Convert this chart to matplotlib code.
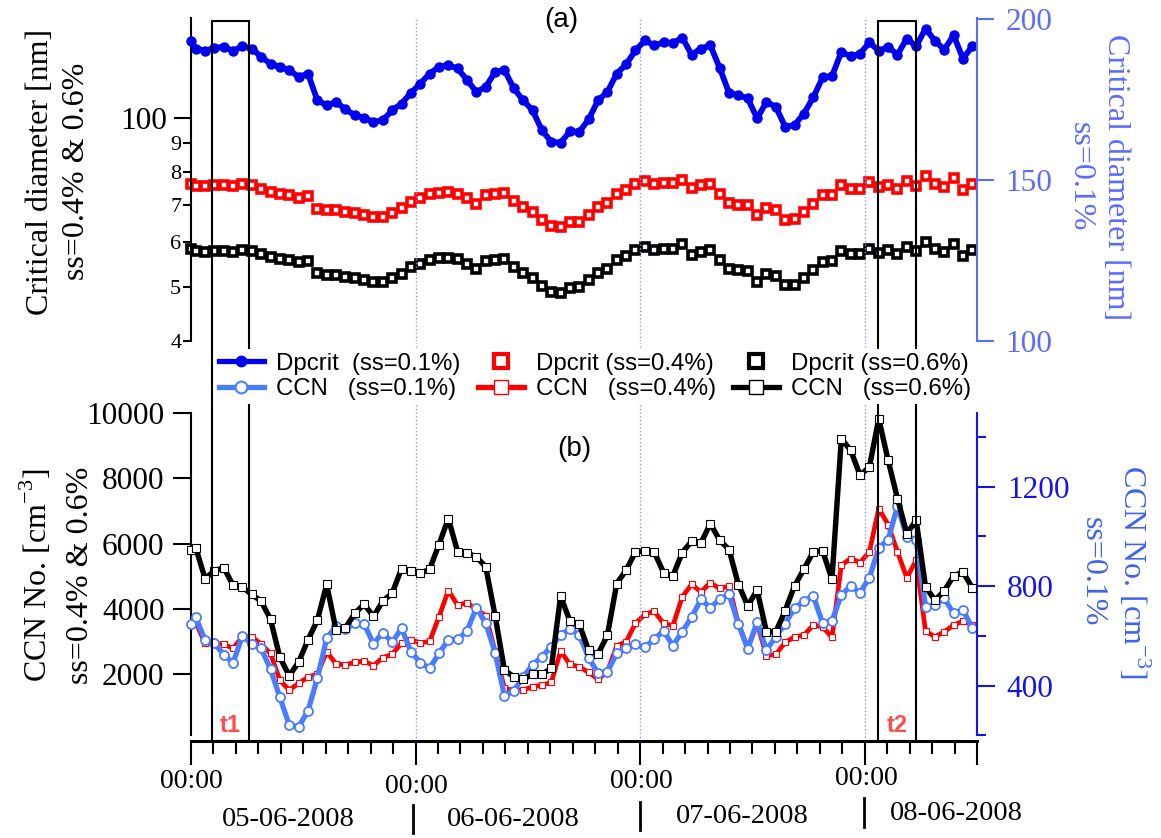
import numpy as np
import matplotlib
matplotlib.use('Agg')
import matplotlib.pyplot as plt
import matplotlib.transforms as mtransforms
from matplotlib.lines import Line2D
from matplotlib.patches import Rectangle
from matplotlib.ticker import FixedLocator, FixedFormatter, MultipleLocator, NullLocator, NullFormatter

# hours since 05-06-2008 00:00 (hourly samples)
hours = [0.0] + [k + 0.5 for k in range(84)]

# critical diameters [nm]
dp01 = [193.2, 190.9, 190.2, 191.1, 191.4, 190.2, 191.6, 190.9, 188.3, 186.2,
        185.2, 184.2, 182.1, 183.1, 174.8, 173.3, 174.3, 172.0, 170.2, 169.4,
        168.1, 168.6, 171.7, 173.8, 177.1, 180.0, 183.1, 185.2, 185.7, 184.7,
        181.1, 177.4, 179.0, 183.6, 184.2, 178.5, 174.8, 171.7, 165.5, 161.9,
        161.6, 165.2, 165.0, 168.9, 174.8, 177.4, 183.1, 186.0, 190.3, 193.4,
        191.9, 192.8, 192.6, 194.3, 189.0, 190.9, 191.9, 184.9, 177.1, 176.4,
        175.4, 169.2, 174.3, 172.8, 166.6, 167.1, 170.7, 175.7, 181.9, 182.3,
        189.8, 188.5, 189.3, 192.8, 190.2, 191.4, 189.0, 194.0, 191.6, 197.1,
        193.3, 190.6, 195.0, 187.8, 191.6]
dp04 = [76.3, 75.5, 75.5, 75.8, 75.8, 75.5, 76.1, 75.8, 74.5, 73.7,
        73.2, 72.7, 72.0, 72.4, 68.8, 68.4, 68.6, 67.9, 67.5, 67.2,
        66.5, 66.5, 67.6, 69.1, 70.7, 71.8, 73.0, 73.4, 73.7, 73.2,
        71.8, 70.3, 72.7, 73.2, 73.4, 70.9, 69.3, 67.9, 65.6, 64.0,
        63.8, 65.2, 65.2, 67.0, 69.3, 70.4, 73.0, 74.2, 76.3, 77.0,
        76.2, 76.4, 76.4, 77.5, 74.9, 75.8, 76.3, 73.2, 70.4, 70.0,
        70.0, 67.2, 69.0, 68.5, 65.8, 66.1, 67.9, 70.3, 72.7, 72.9,
        75.8, 74.7, 74.7, 76.8, 75.2, 75.8, 74.7, 77.1, 75.5, 78.6,
        76.3, 75.2, 78.2, 74.4, 76.3]
dp06 = [58.4, 57.8, 57.6, 57.8, 57.8, 57.6, 58.0, 57.8, 57.1, 56.5,
        56.1, 55.8, 55.2, 55.5, 52.9, 52.4, 52.5, 52.0, 51.7, 51.3,
        50.9, 50.9, 51.8, 52.7, 54.1, 54.8, 55.8, 56.2, 56.3, 55.9,
        54.8, 53.8, 55.5, 55.8, 56.1, 54.2, 52.9, 51.9, 50.1, 48.9,
        48.7, 49.8, 49.9, 51.3, 52.9, 53.7, 55.8, 56.6, 58.1, 58.7,
        58.1, 58.3, 58.3, 59.5, 57.0, 57.6, 58.0, 55.8, 53.8, 53.5,
        53.3, 50.9, 52.6, 52.2, 50.3, 50.4, 51.9, 53.5, 55.3, 55.5,
        57.8, 57.1, 57.1, 58.4, 57.4, 58.0, 57.2, 58.8, 57.8, 60.0,
        58.4, 57.6, 59.6, 56.6, 58.0]

# CCN number concentrations [cm-3]
ccn01 = [648, 675, 584, 570, 525, 492, 601, 566, 550, 466,
         353, 242, 235, 298, 430, 590, 640, 626, 651, 648,
         569, 613, 575, 631, 537, 493, 470, 530, 584, 586,
         620, 714, 651, 533, 359, 379, 436, 483, 517, 557,
         604, 628, 604, 512, 450, 456, 530, 550, 566, 554,
         587, 620, 561, 617, 675, 747, 714, 747, 767, 648,
         548, 657, 544, 597, 650, 711, 740, 762, 651, 660,
         765, 801, 774, 834, 955, 986, 1122, 999, 986, 718,
         724, 751, 691, 704, 633]
ccn04 = [3500, 3600, 2940, 2950, 2918, 2786, 3150, 3143, 2918, 2633,
         1807, 1510, 1715, 1908, 2000, 2683, 2310, 2285, 2360, 2400,
         2260, 2505, 2610, 2950, 3050, 2959, 3000, 3755, 4560, 4113,
         4190, 3975, 3790, 2700, 1561, 1510, 1510, 1612, 1663, 1745,
         2704, 2296, 2225, 2050, 1847, 2071, 2868, 2990, 3553, 3828,
         3930, 3553, 3480, 4368, 4747, 4521, 4797, 4624, 4695, 3550,
         2800, 3550, 2561, 2603, 2970, 3143, 3194, 3500, 3449, 3124,
         5338, 5543, 5420, 5746, 7075, 6585, 5746, 4950, 5492, 3317,
         3143, 3296, 3500, 3623, 3500]
ccn06 = [5800, 5880, 4930, 5165, 5267, 4716, 4665, 4440, 4236, 3675,
         2511, 1949, 2367, 3051, 3645, 4747, 3348, 3419, 3859, 4144,
         3767, 4236, 4480, 5237, 5165, 5084, 5216, 5972, 6769, 5746,
         5715, 5593, 5287, 3786, 2122, 1918, 1847, 1991, 1991, 2175,
         4389, 3623, 3522, 2725, 2612, 3194, 4777, 5185, 5746, 5777,
         5746, 5114, 5012, 5726, 6073, 6022, 6615, 6104, 5818, 4746,
         4093, 4573, 3296, 3296, 3945, 4705, 5216, 5746, 5777, 4910,
         9219, 8861, 8095, 8350, 9832, 8554, 7381, 6309, 6717, 4674,
         4266, 4551, 5011, 5133, 4643]

day_starts = [0, 24, 48, 72]
day_names = ['05-06-2008', '06-06-2008', '07-06-2008', '08-06-2008']
windows = [(2.2, 6.2, 't1'), (73.45, 77.45, 't2')]

W, H = 1161, 838
SERIF = 'Liberation Serif'
SANS = 'Liberation Sans'
plt.rcParams['font.family'] = SERIF
plt.rcParams['mathtext.fontset'] = 'custom'
plt.rcParams['mathtext.rm'] = SERIF

DP_BLUE = '#0000ee'
CCN_BLUE = '#4a7cff'
TOP_R = '#5a6cff'
BOT_R = '#1414e8'
BOT_R_LABEL = '#3f63f0'
DOT = '#8f8fff'


def fx(x):
    return x / W


def fy(y):
    return 1 - y / H


fig = plt.figure(figsize=(W / 100, H / 100), dpi=100)

# ---------------- panel (a) ----------------
ax1 = fig.add_axes([fx(191), fy(341), 786 / W, (341 - 18.3) / H])
ax1r = ax1.twinx()

ax1.plot(hours, dp04, ls='none', marker='s', ms=5.5, mew=2.6, mfc='white', mec='red', clip_on=False)
ax1.plot(hours, dp06, ls='none', marker='s', ms=5.5, mew=2.6, mfc='white', mec='black', clip_on=False)
ax1r.plot(hours, dp01, color=DP_BLUE, lw=4.2, marker='o', ms=6.5, mfc=DP_BLUE, mec=DP_BLUE, clip_on=False)

ax1.set_yscale('log')
ax1.set_xlim(0, 84)
ax1.set_ylim(40, 150.3)
ax1r.set_ylim(100, 200.3)

for d in day_starts[1:]:
    ax1.axvline(d, color=DOT, ls=':', lw=1.0)

for s in ['top', 'bottom', 'right']:
    ax1.spines[s].set_visible(False)
ax1.spines['left'].set_linewidth(1.5)
for s in ['top', 'bottom', 'left']:
    ax1r.spines[s].set_visible(False)
ax1r.spines['right'].set_color(TOP_R)
ax1r.spines['right'].set_linewidth(1.5)

ax1.yaxis.set_major_locator(FixedLocator([100]))
ax1.yaxis.set_major_formatter(FixedFormatter(['100']))
ax1.yaxis.set_minor_locator(FixedLocator([40, 50, 60, 70, 80, 90]))
ax1.yaxis.set_minor_formatter(FixedFormatter(['4', '5', '6', '7', '8', '9']))
ax1.tick_params(axis='y', which='major', length=12, width=1.5, pad=5, labelsize=22.5)
ax1.tick_params(axis='y', which='minor', length=6, width=1.5, pad=1, labelsize=16)
ax1.tick_params(axis='x', which='both', bottom=False, labelbottom=False)

ax1r.yaxis.set_major_locator(FixedLocator([100, 150, 200]))
ax1r.yaxis.set_minor_locator(NullLocator())
ax1r.tick_params(axis='y', length=12, width=1.5, pad=8.5, labelsize=22.5, colors=TOP_R)

fig.text(fx(41), fy(172), 'Critical diameter [nm]', rotation=90, ha='center', va='center', fontsize=23)
fig.text(fx(76), fy(171), 'ss=0.4% & 0.6%', rotation=90, ha='center', va='center', fontsize=23)
fig.text(fx(1115), fy(177), 'Critical diameter [nm]', rotation=270, ha='center', va='center',
         fontsize=23, color=TOP_R)
fig.text(fx(1080), fy(177), 'ss=0.1%', rotation=270, ha='center', va='center', fontsize=23, color=TOP_R)
fig.text(fx(561), fy(20), '(a)', ha='center', va='center', fontsize=20, family=SANS)

# ---------------- panel (b) ----------------
ax2 = fig.add_axes([fx(191), fy(741), 786 / W, 328 / H])
ax2r = ax2.twinx()

ax2.plot(hours, ccn04, color='red', lw=3.4, marker='s', ms=5, mfc='white', mec='red', mew=0.8, clip_on=False)
ax2r.plot(hours, ccn01, color=CCN_BLUE, lw=3.8, marker='o', ms=6.5, mfc='white', mec=CCN_BLUE, mew=1.3,
          clip_on=False, zorder=2)
ax2r.plot(hours, ccn06, color='black', lw=3.9, marker='s', ms=6, mfc='white', mec='black', mew=0.8,
          clip_on=False, zorder=3, transform=ax2.transData)

trans = mtransforms.blended_transform_factory(ax2.transData, ax2.transAxes)
for a, b, name in windows:
    ax2r.add_patch(Rectangle((a, 0), b - a, (741 - 20.7) / 328, transform=trans, fill=False,
                             lw=1.5, ec='black', clip_on=False, zorder=5))
    ax2r.text((a + b) / 2, 0.046, name, transform=trans, ha='center', va='center', fontsize=17,
              fontweight='bold', family=SANS, color='#ff4d4d', zorder=6)

for d in day_starts[1:]:
    ax2.axvline(d, ymin=0, ymax=(741 - 343) / 328, color=DOT, ls=':', lw=1.0, clip_on=False)

ax2.set_xlim(0, 84)
ax2.set_ylim(-52, 10005)
ax2r.set_ylim(177.7, 1496.3)

ax2.spines['top'].set_visible(False)
ax2.spines['right'].set_visible(False)
ax2.spines['left'].set_linewidth(1.5)
ax2.spines['left'].set_bounds(120, 10005)
ax2.spines['bottom'].set_linewidth(2.2)
for s in ['top', 'bottom', 'left']:
    ax2r.spines[s].set_visible(False)
ax2r.spines['right'].set_color(BOT_R)
ax2r.spines['right'].set_linewidth(1.5)
ax2r.spines['right'].set_bounds(200, 1496)

ax2.xaxis.set_major_locator(FixedLocator(day_starts + [84]))
ax2.xaxis.set_major_formatter(NullFormatter())
ax2.xaxis.set_minor_locator(MultipleLocator(2.4))
ax2.tick_params(axis='x', which='major', length=17, width=1.5)
ax2.tick_params(axis='x', which='minor', length=9, width=1.5)

ax2.yaxis.set_major_locator(FixedLocator([2000, 4000, 6000, 8000, 10000]))
ax2.yaxis.set_major_formatter(FixedFormatter(['2000', '4000', '6000', '8000', '10000']))
ax2.tick_params(axis='y', length=13, width=1.5, pad=6, labelsize=22.5)

ax2r.yaxis.set_major_locator(FixedLocator([400, 800, 1200]))
ax2r.yaxis.set_major_formatter(FixedFormatter(['400', '800', '1200']))
ax2r.yaxis.set_minor_locator(FixedLocator([200, 600, 1000, 1400]))
ax2r.tick_params(axis='y', which='major', length=13, width=1.5, pad=8.5, labelsize=22.5, colors=BOT_R)
ax2r.tick_params(axis='y', which='minor', length=6.5, width=1.5, colors=BOT_R)

fig.text(fx(36), fy(575), r'CCN No. [cm$^{\mathregular{-3}}$]', rotation=90, ha='center', va='center', fontsize=23)
fig.text(fx(80), fy(575), 'ss=0.4% & 0.6%', rotation=90, ha='center', va='center', fontsize=23)
fig.text(fx(1134), fy(572), r'CCN No. [cm$^{\mathregular{-3}}$]', rotation=270, ha='center', va='center',
         fontsize=23, color=BOT_R_LABEL)
fig.text(fx(1092), fy(572), 'ss=0.1%', rotation=270, ha='center', va='center', fontsize=23, color=BOT_R_LABEL)
fig.text(fx(574), fy(449), '(b)', ha='center', va='center', fontsize=20, family=SANS)

# time axis labels
hh_pos = [(191, 781), (416, 786), (641, 782), (866, 778)]
for (x, y) in hh_pos:
    fig.text(fx(x), fy(y), '00:00', ha='center', va='center', fontsize=20)
date_pos = [(288, 819), (513, 819), (742, 816), (956, 813)]
for name, (x, y) in zip(day_names, date_pos):
    fig.text(fx(x), fy(y), name, ha='center', va='center', fontsize=20.5)
for x, y0, y1 in [(412.5, 805, 833), (640, 802, 830), (864, 798, 827)]:
    fig.add_artist(Line2D([fx(x), fx(x)], [fy(y0), fy(y1)], color='black', lw=2))

# legend
handles = [
    Line2D([], [], color=DP_BLUE, lw=3.8, marker='o', ms=7.5, mfc=DP_BLUE, mec=DP_BLUE),
    Line2D([], [], color=CCN_BLUE, lw=3.8, marker='o', ms=8.5, mfc='white', mec=CCN_BLUE, mew=1.5),
    Line2D([], [], ls='none', marker='s', ms=10, mfc='white', mec='red', mew=3),
    Line2D([], [], color='red', lw=3.8, marker='s', ms=10.5, mfc='white', mec='red', mew=1),
    Line2D([], [], ls='none', marker='s', ms=10, mfc='white', mec='black', mew=3),
    Line2D([], [], color='black', lw=3.8, marker='s', ms=10.5, mfc='white', mec='black', mew=1),
]
labels = ['Dpcrit  (ss=0.1%)', 'CCN   (ss=0.1%)',
          'Dpcrit (ss=0.4%)', 'CCN   (ss=0.4%)',
          'Dpcrit (ss=0.6%)', 'CCN   (ss=0.6%)']
fig.legend(handles, labels, ncol=3, loc='upper left', bbox_to_anchor=(fx(215), fy(349)),
           frameon=True, facecolor='white', edgecolor='none', framealpha=1, fancybox=False,
           prop={'family': SANS, 'size': 17.3}, handlelength=1.9, handletextpad=0.5,
           columnspacing=0.72, labelspacing=0.15, borderpad=0.15, borderaxespad=0)

fig.savefig('out.png', dpi=100)
